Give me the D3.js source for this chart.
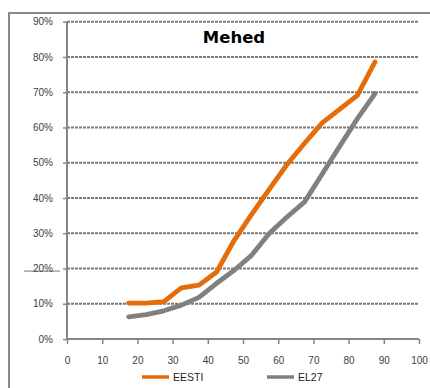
<!DOCTYPE html>
<html>
<head>
<meta charset="utf-8">
<script src="https://cdn.jsdelivr.net/npm/d3@7"></script>
<style>
  html, body { margin: 0; padding: 0; background: #fff; }
  svg { display: block; }
</style>
</head>
<body>
<svg id="chart" width="430" height="388"></svg>
<script>
// Age group midpoints (x) and share of each group (%)
const ages  = [17.5, 22.5, 27.5, 32.5, 37.5, 42.5, 47.5, 52.5, 57.5, 62.5, 67.5, 72.5, 77.5, 82.5, 87.5];
const eesti = [10.2, 10.2, 10.6, 14.5, 15.3, 19.0, 28.0, 35.4, 42.5, 49.5, 55.5, 61.3, 65.2, 69.1, 78.6];
const el27  = [6.3, 6.9, 8.0, 9.6, 11.8, 15.8, 19.5, 23.8, 30.0, 34.6, 38.9, 46.8, 54.7, 62.5, 69.6];
const xTicks = [0, 10, 20, 30, 40, 50, 60, 70, 80, 90, 100];
const yTicks = [0, 10, 20, 30, 40, 50, 60, 70, 80, 90];
const seriesNames = ["EESTI", "EL27"];
const seriesColors = ["#E46C0A", "#808080"];
const title = "Mehed";

const svg = d3.select("#chart");
const x = d3.scaleLinear().domain([0, 100]).range([67, 419]);
const y = d3.scaleLinear().domain([0, 90]).range([339, 21.7]);
const font = "'Liberation Sans', Arial, sans-serif";

// outer chart frame (only top and left edges fall inside the view)
svg.append("path")
  .attr("d", "M9,388 L9,13 L432,13")
  .attr("fill", "none").attr("stroke", "#8a8a8a").attr("stroke-width", 2);

// dashed horizontal gridlines
svg.append("g").selectAll("line")
  .data(yTicks.filter(d => d > 0))
  .join("line")
  .attr("x1", x(0)).attr("x2", x(100))
  .attr("y1", d => y(d)).attr("y2", d => y(d))
  .attr("stroke", "#7a7a7a").attr("stroke-width", 2)
  .attr("stroke-dasharray", "3,1");

// y axis
const yAxis = svg.append("g")
  .attr("transform", `translate(${x(0)},0)`)
  .call(d3.axisLeft(y).tickValues(yTicks).tickSize(4).tickPadding(10)
    .tickFormat(d => d + "%"));
yAxis.select(".domain").attr("stroke", "#868686").attr("stroke-width", 2)
  .attr("d", `M0,${y(90)}V${y(0)}`);
yAxis.selectAll(".tick line").attr("stroke", "#868686").attr("stroke-width", 1.5);
yAxis.selectAll(".tick text")
  .attr("font-family", font).attr("font-size", 10).attr("fill", "#404040");

// small stroke under the 20% label
svg.append("line")
  .attr("x1", 24).attr("x2", 60)
  .attr("y1", y(20) + 2.6).attr("y2", y(20) + 2.6)
  .attr("stroke", "#555").attr("stroke-width", 0.8);

// x axis
const xAxis = svg.append("g")
  .attr("transform", `translate(0,${y(0)})`)
  .call(d3.axisBottom(x).tickValues(xTicks).tickSize(5).tickPadding(13));
xAxis.select(".domain").attr("stroke", "#868686").attr("stroke-width", 2)
  .attr("d", `M${x(0)},0H${x(100)}`);
xAxis.selectAll(".tick line").attr("stroke", "#868686").attr("stroke-width", 1.5);
xAxis.selectAll(".tick text")
  .attr("font-family", font).attr("font-size", 10).attr("fill", "#404040");

// data lines
const line = d3.line().x((d, i) => x(ages[i])).y(d => y(d));
[el27, eesti].forEach((vals, k) => {
  const idx = 1 - k;
  svg.append("path")
    .datum(vals)
    .attr("d", line)
    .attr("fill", "none")
    .attr("stroke", seriesColors[idx])
    .attr("stroke-width", 4.8)
    .attr("stroke-linejoin", "round")
    .attr("stroke-linecap", "round");
});

// title
svg.append("text")
  .attr("x", 234).attr("y", 43.3)
  .attr("text-anchor", "middle")
  .attr("font-family", "'DejaVu Sans', sans-serif")
  .attr("font-weight", "bold").attr("font-size", 16.5)
  .attr("fill", "#000")
  .text(title);

// legend
const legendX = [142, 267];
const legend = svg.append("g").selectAll("g")
  .data(seriesNames)
  .join("g")
  .attr("transform", (d, i) => `translate(${legendX[i]},377)`);
legend.append("line")
  .attr("x1", 0).attr("x2", 27)
  .attr("stroke", (d, i) => seriesColors[i]).attr("stroke-width", 3.5);
legend.append("text")
  .attr("x", 31).attr("y", 4)
  .attr("font-family", font).attr("font-size", 10.5).attr("fill", "#222")
  .text(d => d);
</script>
</body>
</html>
